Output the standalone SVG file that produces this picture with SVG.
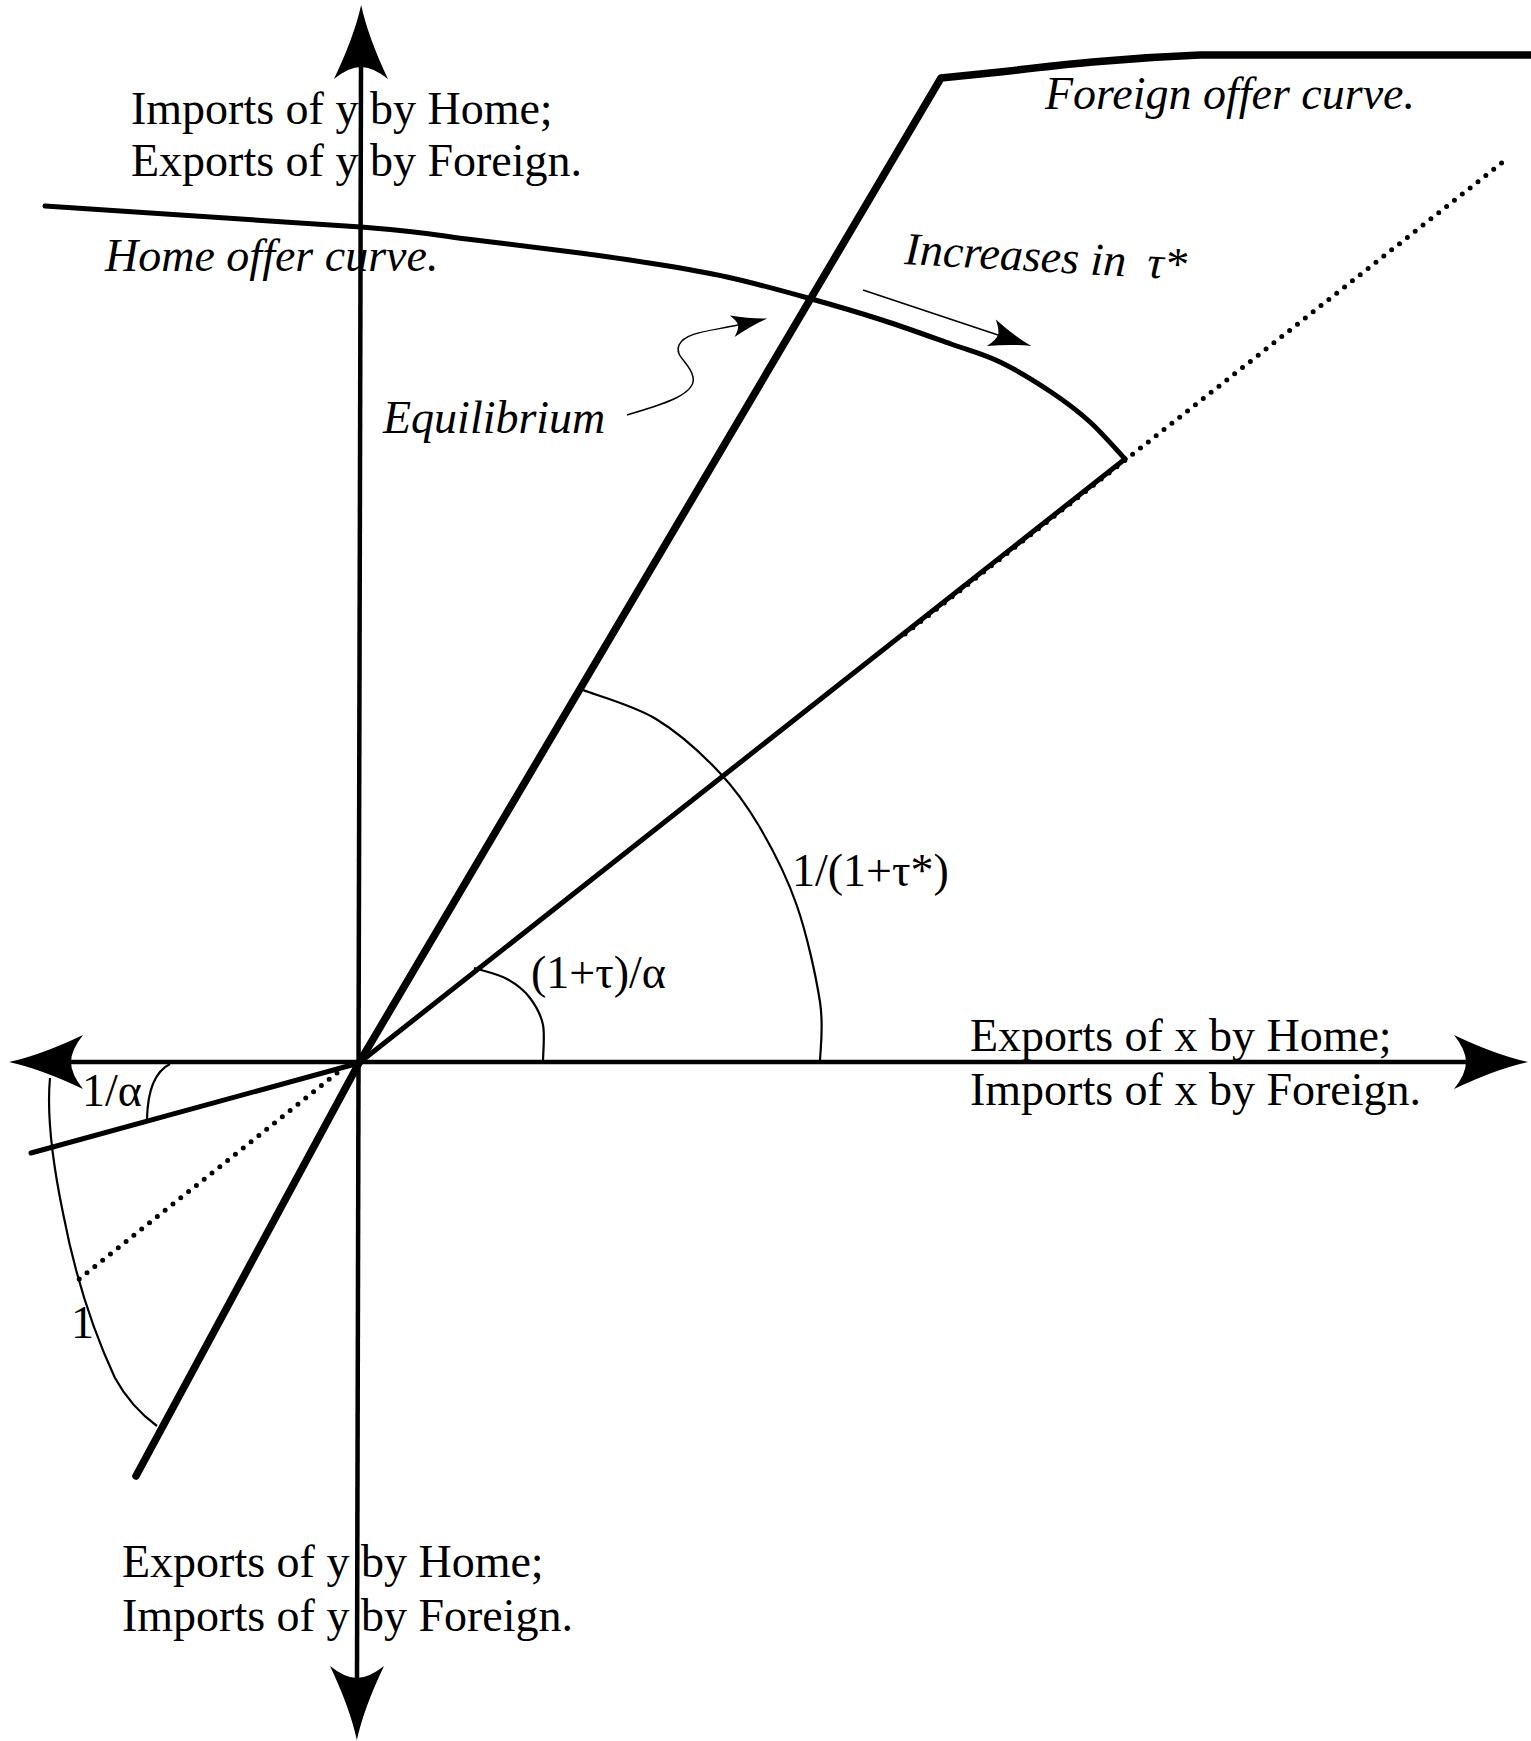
<svg xmlns="http://www.w3.org/2000/svg" width="1531" height="1741" viewBox="0 0 1531 1741">
<style>
.t{font-family:"Liberation Serif","Times New Roman",serif;font-size:46px;fill:#000}
.i{font-style:italic}
.ax{stroke:#000;stroke-width:4.5;fill:none}
.thick{stroke:#000;stroke-width:7.5;fill:none;stroke-linejoin:round;stroke-linecap:round}
.med{stroke:#000;stroke-width:5;fill:none;stroke-linejoin:round;stroke-linecap:round}
.arc{stroke:#000;stroke-width:2.2;fill:none}
.thin{stroke:#000;stroke-width:1.5;fill:none}
.dot{stroke:#000;stroke-width:5;fill:none;stroke-dasharray:0 10;stroke-linecap:round}
</style>
<defs>
<marker id="bigArrow" viewBox="-14 -30 80 60" refX="0" refY="0" markerWidth="80" markerHeight="60" markerUnits="userSpaceOnUse" orient="auto-start-reverse">
<path d="M62,0 Q30,-7 -12,-27 Q0,-12 0,0 Q0,12 -12,27 Q30,7 62,0 Z" fill="#000"/>
</marker>
<marker id="smallArrow" viewBox="-9 -16 46 32" refX="0" refY="0" markerWidth="46" markerHeight="32" markerUnits="userSpaceOnUse" orient="auto">
<path d="M35,0 Q16,-4 -7,-14 Q0,-5 0,0 Q0,5 -7,14 Q16,4 35,0 Z" fill="#000"/>
</marker>
<marker id="tinyArrow" viewBox="-9 -14 40 28" refX="0" refY="0" markerWidth="40" markerHeight="28" markerUnits="userSpaceOnUse" orient="auto">
<path d="M30,0 Q14,-3 -6,-11 Q0,-4 0,0 Q0,4 -6,11 Q14,3 30,0 Z" fill="#000"/>
</marker>
</defs>

<g id="axes">
<line class="ax" x1="361" y1="67" x2="357" y2="1678" marker-start="url(#bigArrow)" marker-end="url(#bigArrow)"/>
<line class="ax" x1="71" y1="1062" x2="1466" y2="1062" marker-start="url(#bigArrow)" marker-end="url(#bigArrow)"/>
</g>

<g id="foreign-offer-curve">
<path class="thick" d="M136,1476 L359,1063 L941,78 L1000,72 C1060,65 1120,58 1200,55 L1531,55"/>
</g>

<g id="price-lines">
<path class="med" d="M31,1153 L359,1063 L1125,459"/>
<path class="dot" d="M905,634 L1508,158"/>
<path class="dot" d="M337,1073 L78,1280"/>
</g>

<g id="home-offer-curve">
<path class="med" d="M45,206 L361,227 C432.7,232.7 438.5,235.7 475,240 C511.5,244.3 551,249.2 580,253 C609,256.8 624.5,259 649,263 C673.5,267 700.5,271.2 727,277 C753.5,282.8 782.2,290.8 808,298 C833.8,305.2 858.2,312.3 882,320 C905.8,327.7 931.3,337 951,344 C970.7,351 983.3,354 1000,362 C1016.7,370 1036,382 1051,392 C1066,402 1077.7,410.8 1090,422 C1102.3,433.2 1119.2,452.8 1125,459"/>
</g>

<g id="angle-arcs">
<path class="arc" d="M583,690 C595,695 633,705 656,719 C679,733 702,754 719,772 C736,790 746,804 759,826 C772,848 787,877 797,906 C807,935 816,976 820,1002 C824,1028 820,1051 820,1062"/>
<path class="arc" d="M474,968 C480,970 498,974 507,979 C516,984 524,990 530,998 C536,1006 541,1015 543,1025 C545,1035 543,1053 543,1062"/>
<path class="arc" d="M170,1064 Q148,1075 147,1119"/>
<path class="arc" d="M50,1078 C47,1110 50,1150 63,1213 C72,1260 88,1320 115,1378 C127,1400 142,1415 157,1426"/>
</g>

<g id="connectors">
<path class="thin" d="M627,415 C660,405 697,395 693,377 C690,362 674,357 679,345 C685,332 711,331 738,325" marker-end="url(#tinyArrow)"/>
<path class="thin" d="M863,290 L998,335" marker-end="url(#smallArrow)"/>
</g>

<g id="labels">
<text class="t" x="131" y="124">Imports of y by Home;</text>
<text class="t" x="131" y="176">Exports of y by Foreign.</text>
<text class="t i" x="105" y="271">Home offer curve.</text>
<text class="t i" x="383" y="433">Equilibrium</text>
<text class="t i" x="1045" y="109">Foreign offer curve.</text>
<text class="t i" transform="rotate(3.2 904 264)" x="904" y="264">Increases in<tspan x="1147">τ*</tspan></text>
<text class="t" x="792" y="886">1/(1+τ*)</text>
<text class="t" x="531" y="988">(1+τ)/α</text>
<text class="t" x="970" y="1051">Exports of x by Home;</text>
<text class="t" x="970" y="1105">Imports of x by Foreign.</text>
<text class="t" x="82" y="1106">1/α</text>
<text class="t" x="71" y="1338">1</text>
<text class="t" x="122" y="1577">Exports of y by Home;</text>
<text class="t" x="122" y="1631">Imports of y by Foreign.</text>
</g>
</svg>
